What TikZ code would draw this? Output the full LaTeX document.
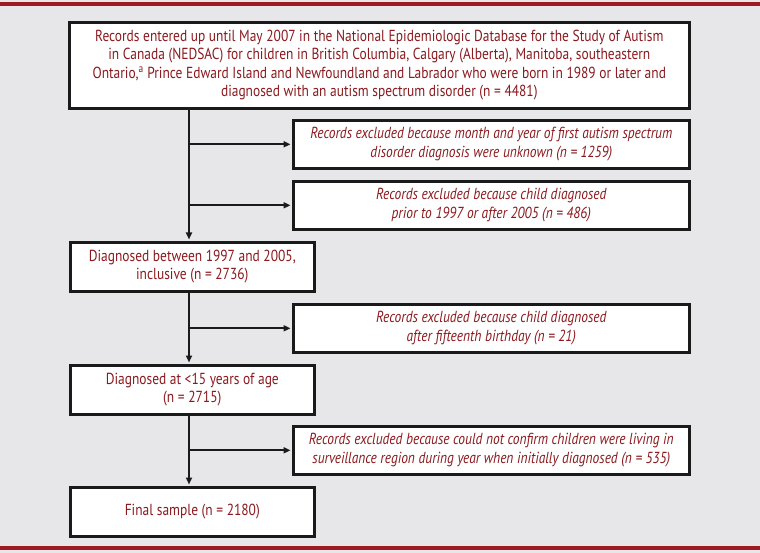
\documentclass[tikz,border=0pt]{standalone}
\usepackage{fontspec}
\setmainfont[FakeStretch=0.84]{PT Sans}
\usetikzlibrary{arrows.meta}
\definecolor{bg}{HTML}{E7E7E9}
\definecolor{txt}{HTML}{8B1A1F}
\definecolor{rule}{HTML}{9E1B22}
\definecolor{frame}{HTML}{1A1A1A}
\tikzset{
  box/.style={draw=frame, line width=2.6pt, fill=white, text=txt, align=center,
    inner sep=0pt, anchor=north west, font=\fontsize{16pt}{18.5pt}\selectfont},
  exbox/.style={box, minimum width=396pt, minimum height=48pt, font=\fontsize{16pt}{18.5pt}\selectfont\itshape},
  mainbox/.style={box, minimum width=244pt, minimum height=49pt},
  conn/.style={draw=frame, line width=1.8pt},
  arr/.style={conn, -{Triangle[length=7pt,width=6pt]}, shorten >=1.5pt}
}
\begin{document}
\begin{tikzpicture}[x=1pt,y=-1pt]
\useasboundingbox (0,0) rectangle (760,553);
\fill[bg] (0,0) rectangle (760,553);
\fill[rule] (0,2.5) rectangle (760,6.5);
\fill[rule] (0,545.5) rectangle (760,549.5);
\node[box, minimum width=620pt, minimum height=86pt] (top) at (68,21)
  {Records entered up until May 2007 in the National Epidemiologic Database for the Study of Autism\\
   in Canada (NEDSAC) for children in British Columbia, Calgary (Alberta), Manitoba, southeastern\\
   Ontario,\textsuperscript{a} Prince Edward Island and Newfoundland and Labrador who were born in 1989 or later and\\
   diagnosed with an autism spectrum disorder (n = 4481)};
\node[exbox] (ex1) at (292,119)
  {Records excluded because month and year of first autism spectrum\\
   disorder diagnosis were unknown (\textit{n} = 1259)};
\node[exbox] (ex2) at (292,180)
  {Records excluded because child diagnosed\\
   prior to 1997 or after 2005 (\textit{n} = 486)};
\node[mainbox] (d1) at (69,241)
  {Diagnosed between 1997 and 2005,\\ inclusive (n = 2736)};
\node[exbox] (ex3) at (292,303)
  {Records excluded because child diagnosed\\
   after fifteenth birthday (\textit{n} = 21)};
\node[mainbox] (d2) at (69,364)
  {Diagnosed at <15 years of age\\ (n = 2715)};
\node[exbox] (ex4) at (292,425)
  {Records excluded because could not confirm children were living in\\
   surveillance region during year when initially diagnosed (\textit{n} = 535)};
\node[mainbox] (fin) at (69,486) {Final sample (n = 2180)};
\coordinate (sp) at (189,0);
\draw[arr] (top.south -| sp) -- (d1.north -| sp);
\draw[arr] (d1.south -| sp) -- (d2.north -| sp);
\draw[arr] (d2.south -| sp) -- (fin.north -| sp);
\draw[arr] (ex1.west -| sp) -- (ex1.west);
\draw[arr] (ex2.west -| sp) -- (ex2.west);
\draw[arr] (ex3.west -| sp) -- (ex3.west);
\draw[arr] (ex4.west -| sp) -- (ex4.west);
\end{tikzpicture}
\end{document}
